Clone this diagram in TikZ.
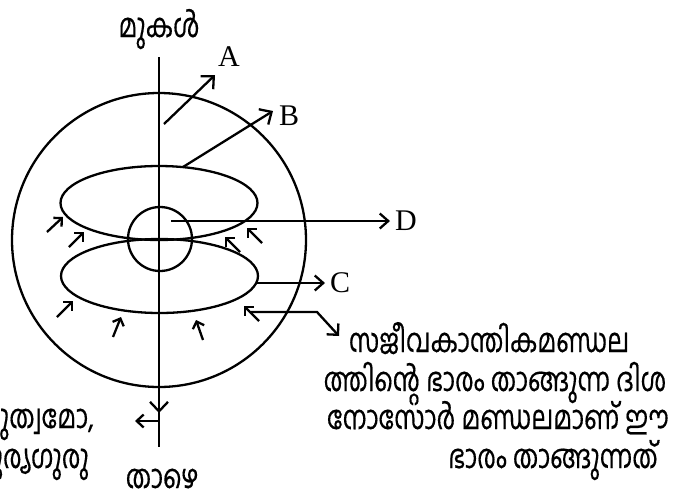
\documentclass[tikz,border=0pt]{standalone}
\usepackage{fontspec}
\setmainfont{Liberation Serif}
\newfontfamily\mlfont[Script=Malayalam, FakeStretch=0.76, FakeBold=0.35]{Hind Kochi}
\usetikzlibrary{arrows.meta}
\begin{document}
\begin{tikzpicture}[x=1pt,y=-1pt,
  line width=2.3pt,
  bigtip/.style={-{Straight Barb[length=9.5pt,width=18pt]}},
  midtip/.style={-{Straight Barb[length=8.5pt,width=15pt]}},
  smalltip/.style={-{Straight Barb[length=6pt,width=12pt]}},
  ml/.style={font=\mlfont\fontsize{33}{36}\selectfont, inner sep=0pt},
  lat/.style={font=\fontsize{30}{32}\selectfont, inner sep=0pt}]
\useasboundingbox (0,0) rectangle (681,499);
% axis
\coordinate (top) at (159,57);
\coordinate (bot) at (159,447);
\coordinate (mid) at (159,413);
\coordinate (midtail) at (159,395);
\coordinate (lft0) at (159,421);
\coordinate (lft1) at (135,421);
\node[ml, anchor=base] (mukal) at (159,37) {മുകൾ};
\node[ml, anchor=base] (thazhe) at (162,488) {താഴെ};
\draw (top) -- (bot);
\draw[bigtip] (midtail) -- (mid);
\draw[-{Straight Barb[length=7pt,width=13pt]}] (lft0) -- (lft1);
% shapes
\draw (159,240) circle[radius=147pt];
\draw (159,203) ellipse[x radius=98.5pt, y radius=37pt];
\draw (159.5,276) ellipse[x radius=98.5pt, y radius=37pt];
\draw (160,239) circle[radius=32pt];
% labelled arrows
\node[lat, anchor=west] (A) at (217,57) {A};
\node[lat, anchor=west] (B) at (278,116) {B};
\node[lat, anchor=west] (D) at (394,221) {D};
\node[lat, anchor=west] (C) at (329,283) {C};
\coordinate (a0) at (164,124); \coordinate (a1) at (215,75);
\coordinate (b0) at (183,167); \coordinate (b1) at (273,111);
\coordinate (d0) at (171,221); \coordinate (d1) at (390,221);
\coordinate (c0) at (257,283); \coordinate (c1) at (325,283);
\draw[bigtip] (a0) -- (a1);
\draw[bigtip] (b0) -- (b1);
\draw[midtip] (d0) -- (d1);
\draw[midtip] (c0) -- (c1);
% small arrows
\draw[smalltip] (47,232) -- (63,217);
\draw[smalltip] (69,247) -- (84,232);
\draw[smalltip] (57,317) -- (73,301);
\draw[smalltip] (113,337) -- (121,317);
\draw[smalltip] (203,340) -- (196,320);
\draw[smalltip] (240,252) -- (225,237);
\draw[smalltip] (262,243) -- (247,228);
\draw[smalltip] (259,321) -- (244,306);
% bracket
\coordinate (k0) at (251,312); \coordinate (k1) at (317,312); \coordinate (k2) at (339,336);
\draw[-{Straight Barb[length=8pt,width=16pt]}] (k0) -- (k1) -- (k2);
% right text
\node[ml, anchor=base] (t1) at (489,352) {സജീവകാന്തികമണ്ഡല};
\node[ml, anchor=base] (t2) at (495,391) {ത്തിന്റെ ഭാരം താങ്ങുന്ന ദിശ};
\node[ml, anchor=base] (t3) at (498,429) {നോസോർ മണ്ഡലമാണ് ഈ};
\node[ml, anchor=base] (t4) at (553,468) {ഭാരം താങ്ങുന്നത്};
% left text (cut off)
\begin{scope}
\clip (0,0) rectangle (681,499);
\node[ml, anchor=base east] (l1) at (95,428) {ഗുരുത്വമോ,};
\node[ml, anchor=base east] (l2) at (90,468) {സൂര്യഗുരു};
\end{scope}
\end{tikzpicture}
\end{document}
